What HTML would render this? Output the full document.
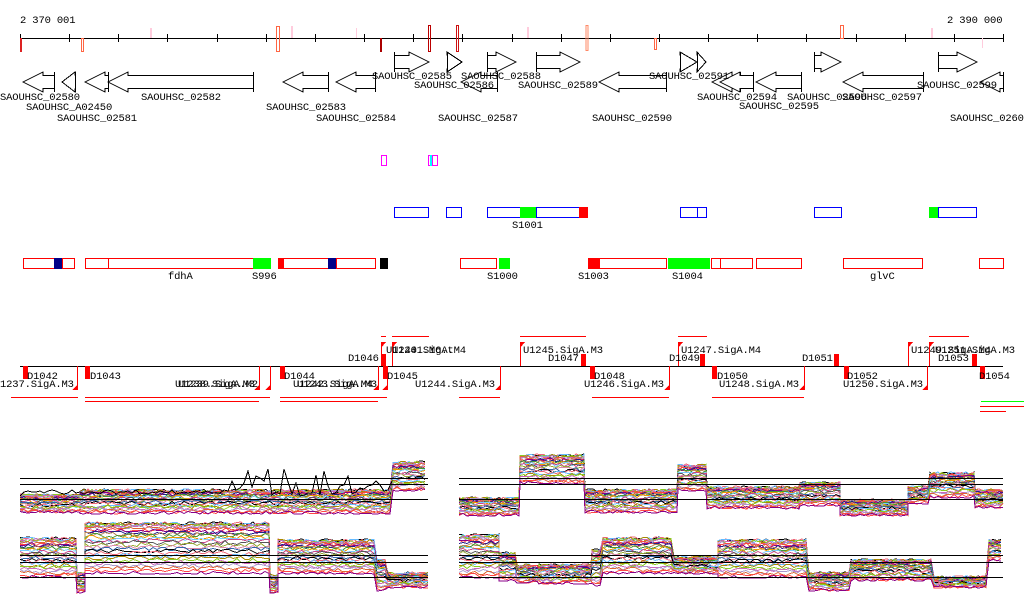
<!DOCTYPE html>
<html><head><meta charset="utf-8"><style>
html,body{margin:0;padding:0;background:#fff;width:1024px;height:611px;overflow:hidden}
svg text{font-family:"Liberation Mono","DejaVu Sans Mono",monospace;font-size:10.5px;fill:#000;letter-spacing:-0.15px}
</style></head><body>
<svg id="s" width="1024" height="611" xmlns="http://www.w3.org/2000/svg" shape-rendering="crispEdges">
<text x="20" y="23">2 370 001</text>
<text x="947" y="23">2 390 000</text>
<line x1="20" y1="38.5" x2="1003" y2="38.5" stroke="#000"/>
<g id="ticks" stroke="#000"></g>
<g fill="none">
<rect x="20" y="38" width="2" height="14" fill="#d22"/>
<rect x="81.5" y="38.5" width="2" height="13" stroke="#f64"/>
<rect x="276.5" y="26.5" width="3" height="25" stroke="#f64"/>
<rect x="428.5" y="25.5" width="2" height="26" stroke="#b00"/>
<rect x="456.5" y="25.5" width="2" height="26" stroke="#c11"/>
<rect x="586" y="25.5" width="2" height="25" stroke="#f86"/>
<rect x="654.5" y="38.5" width="2" height="11" stroke="#f64"/>
<rect x="840.5" y="25.5" width="3" height="13" stroke="#f64"/>
<rect x="380" y="38" width="2" height="14" fill="#a00"/>
<rect x="150" y="28" width="2" height="10" fill="#fcd"/>
<rect x="291" y="26" width="2" height="12" fill="#fcd"/>
<rect x="356" y="28" width="1" height="10" fill="#fcd"/>
<rect x="527" y="27" width="2" height="11" fill="#fcd"/>
<rect x="931" y="28" width="2" height="10" fill="#fcd"/>
<rect x="982" y="38" width="1" height="10" fill="#fcd"/>
</g>
<g id="genes" fill="#fff" stroke="#000"></g>
<g>
<text x="0" y="100">SAOUHSC_02580</text>
<text x="26" y="110">SAOUHSC_A02450</text>
<text x="57" y="121">SAOUHSC_02581</text>
<text x="141" y="100">SAOUHSC_02582</text>
<text x="266" y="110">SAOUHSC_02583</text>
<text x="316" y="121">SAOUHSC_02584</text>
<text x="372" y="79">SAOUHSC_02585</text>
<text x="414" y="88">SAOUHSC_02586</text>
<text x="461" y="79">SAOUHSC_02588</text>
<text x="438" y="121">SAOUHSC_02587</text>
<text x="518" y="88">SAOUHSC_02589</text>
<text x="592" y="121">SAOUHSC_02590</text>
<text x="649" y="79">SAOUHSC_02591</text>
<text x="697" y="100">SAOUHSC_02594</text>
<text x="739" y="109">SAOUHSC_02595</text>
<text x="787" y="100">SAOUHSC_02596</text>
<text x="842" y="100">SAOUHSC_02597</text>
<text x="917" y="88">SAOUHSC_02599</text>
<text x="950" y="121">SAOUHSC_02600</text>
</g>
<g fill="none">
<rect x="381.5" y="155.5" width="5" height="10" stroke="#f0f"/>
<rect x="428.5" y="155.5" width="2" height="10" stroke="#f0f"/>
<rect x="430.5" y="155.5" width="1" height="10" stroke="#0ff"/>
<rect x="432.5" y="155.5" width="5" height="10" stroke="#f0f"/>
</g>
<g fill="#fff" stroke="#00f">
<rect x="394.5" y="207.5" width="34" height="10"/>
<rect x="446.5" y="207.5" width="15" height="10"/>
<rect x="487.5" y="207.5" width="33" height="10"/>
<rect x="536.5" y="207.5" width="43" height="10"/>
<rect x="680.5" y="207.5" width="17" height="10"/>
<rect x="697.5" y="207.5" width="9" height="10"/>
<rect x="814.5" y="207.5" width="27" height="10"/>
<rect x="938.5" y="207.5" width="38" height="10"/>
</g>
<rect x="520" y="207" width="16" height="11" fill="#0f0"/>
<rect x="579" y="207" width="9" height="11" fill="#f00"/>
<rect x="929" y="207" width="9" height="11" fill="#0f0"/>
<text x="512" y="228">S1001</text>
<g fill="#fff" stroke="#f00">
<rect x="23.5" y="258.5" width="31" height="10"/>
<rect x="62.5" y="258.5" width="12" height="10"/>
<rect x="85.5" y="258.5" width="23" height="10"/>
<rect x="108.5" y="258.5" width="145" height="10"/>
<rect x="278.5" y="258.5" width="50" height="10"/>
<rect x="336.5" y="258.5" width="39" height="10"/>
<rect x="460.5" y="258.5" width="36" height="10"/>
<rect x="599.5" y="258.5" width="67" height="10"/>
<rect x="711.5" y="258.5" width="9" height="10"/>
<rect x="720.5" y="258.5" width="32" height="10"/>
<rect x="756.5" y="258.5" width="45" height="10"/>
<rect x="843.5" y="258.5" width="79" height="10"/>
<rect x="979.5" y="258.5" width="24" height="10"/>
</g>
<rect x="54" y="258" width="8" height="11" fill="#008"/>
<rect x="328" y="258" width="8" height="11" fill="#008"/>
<rect x="253" y="258" width="18" height="11" fill="#0f0"/>
<rect x="278" y="258" width="6" height="11" fill="#f00"/>
<rect x="380" y="258" width="8" height="11" fill="#000"/>
<rect x="499" y="258" width="11" height="11" fill="#0f0"/>
<rect x="588" y="258" width="11" height="11" fill="#f00"/>
<rect x="668" y="258" width="42" height="11" fill="#0f0"/>
<text x="168" y="279">fdhA</text>
<text x="252" y="279">S996</text>
<text x="487" y="279">S1000</text>
<text x="578" y="279">S1003</text>
<text x="672" y="279">S1004</text>
<text x="870" y="279">glvC</text>
<line x1="20" y1="366.5" x2="1003" y2="366.5" stroke="#000"/>
<g id="tss"></g>
<g>
<text x="27" y="379">D1042</text>
<text x="0" y="387">1237.SigA.M3</text>
<text x="90" y="379">D1043</text>
<text x="175" y="387">U1238.SigA.M3</text>
<text x="178" y="387">U1239.SigA.M2</text>
<text x="284" y="379">D1044</text>
<text x="293" y="387">U1242.SigA.M4</text>
<text x="297" y="387">U1243.SigA.M3</text>
<text x="387" y="379">D1045</text>
<text x="348" y="361">D1046</text>
<text x="386" y="353">U1240.SigA.M4</text>
<text x="392" y="353">U1241.M6.t</text>
<text x="415" y="387">U1244.SigA.M3</text>
<text x="523" y="353">U1245.SigA.M3</text>
<text x="548" y="361">D1047</text>
<text x="594" y="379">D1048</text>
<text x="584" y="387">U1246.SigA.M3</text>
<text x="681" y="353">U1247.SigA.M4</text>
<text x="669" y="361">D1049</text>
<text x="717" y="379">D1050</text>
<text x="719" y="387">U1248.SigA.M3</text>
<text x="802" y="361">D1051</text>
<text x="847" y="379">D1052</text>
<text x="843" y="387">U1250.SigA.M3</text>
<text x="911" y="353">U1249.SigA.M4</text>
<text x="935" y="353">U1251.SigA.M3</text>
<text x="938" y="361">D1053</text>
<text x="979" y="379">D1054</text>
</g>
<g stroke="#f00" stroke-width="1.2">
<line x1="11" y1="397.5" x2="78" y2="397.5"/>
<line x1="85" y1="397.5" x2="270" y2="397.5"/>
<line x1="85" y1="401.5" x2="259" y2="401.5"/>
<line x1="280" y1="397.5" x2="387" y2="397.5"/>
<line x1="280" y1="401.5" x2="378" y2="401.5"/>
<line x1="459" y1="397.5" x2="500" y2="397.5"/>
<line x1="592" y1="397.5" x2="669" y2="397.5"/>
<line x1="712" y1="397.5" x2="804" y2="397.5"/>
<line x1="381" y1="336.5" x2="386" y2="336.5"/>
<line x1="392" y1="336.5" x2="429" y2="336.5"/>
<line x1="520" y1="336.5" x2="586" y2="336.5"/>
<line x1="678" y1="336.5" x2="707" y2="336.5"/>
<line x1="929" y1="336.5" x2="969" y2="336.5"/>
<line x1="980" y1="406.5" x2="1024" y2="406.5"/>
<line x1="980" y1="411.5" x2="1006" y2="411.5"/>
</g>
<line x1="981" y1="401.5" x2="1024" y2="401.5" stroke="#0f0"/>
<g id="plots" fill="none"></g>
</svg>
<script>
var NS="http://www.w3.org/2000/svg";
function el(p,t,a){var e=document.createElementNS(NS,t);for(var k in a)e.setAttribute(k,a[k]);document.getElementById(p).appendChild(e);return e;}
for(var i=0;i<=20;i++){var x=Math.round(20+i*49.15)+.5;el('ticks','line',{x1:x,y1:34,x2:x,y2:42});}
function fwd(a,b,y){var h=Math.min(20,b-a),m=y+10;el('genes','path',{d:'M'+a+'.5 '+y+'V'+(y+20)+'M'+a+' '+(y+16.5)+'H'+(b-h)+'V'+(y+20)+'L'+b+' '+m+'L'+(b-h)+' '+y+'V'+(y+3.5)+'H'+a});}
function rev(a,b,y){var h=Math.min(20,b-a),m=y+10;el('genes','path',{d:'M'+b+'.5 '+y+'V'+(y+20)+'M'+b+' '+(y+16.5)+'H'+(a+h)+'V'+(y+20)+'L'+a+' '+m+'L'+(a+h)+' '+y+'V'+(y+3.5)+'H'+b});}
fwd(394,429,52);fwd(447,462,52);fwd(487,516,52);fwd(536,580,52);fwd(680,697,52);fwd(697,706,52);fwd(814,841,52);fwd(938,977,52);
rev(23,54,72);rev(62,75,72);rev(85,108,72);rev(108,253,72);rev(283,328,72);rev(336,375,72);rev(461,497,72);rev(599,666,72);rev(712,740,72);rev(720,753,72);rev(756,801,72);rev(843,923,72);rev(980,1003,72);
var R=[[23,366,5,13],[85,366,5,13],[280,366,5,13],[383,366,5,13],[381,354,5,12],[581,354,5,12],[590,366,5,13],[700,354,5,12],[712,366,5,13],[834,354,5,12],[844,366,5,13],[972,354,5,12],[980,366,5,13]];
R.forEach(function(r){el('tss','rect',{x:r[0],y:r[1],width:r[2],height:r[3],fill:'#f00'});});
[77,259,270,378,387,500,669,804,927].forEach(function(x){el('tss','line',{x1:x+.5,y1:366,x2:x+.5,y2:390,stroke:'#f00'});el('tss','path',{d:'M'+(x+1)+' 384L'+(x+1)+' 390L'+(x-5)+' 390Z',fill:'#f00'});});
[381,392,520,678,908,929].forEach(function(x){el('tss','line',{x1:x+.5,y1:342,x2:x+.5,y2:366,stroke:'#f00'});el('tss','path',{d:'M'+x+' 342L'+(x+5)+' 342L'+x+' 348Z',fill:'#f00'});});
var seed=7;function rnd(){seed=(seed*16807)%2147483647;return seed/2147483647;}
var cols=['#000','#e67','#6bf','#a80','#8c2','#c6b','#a9c','#d63','#f44','#808','#228','#b85','#493','#e90','#7cf','#c48','#555','#9a3','#d8a','#36a'];
function panel(segs,lines){
 var N=30;
 for(var i=0;i<N;i++){var f=Math.pow(i/(N-1),1.6),c=cols[i%cols.length],d='';
  segs.forEach(function(g){var t=g[2],b=g[3],y0=null;for(var x=g[0];x<=g[1];x+=4){var y=Math.round(t+f*(b-t)+(rnd()-.5)*4)+.5;y=Math.max(t-1,Math.min(b+1,y));d+=(d?'L':'M')+x+' '+y;}});
  el('plots','path',{d:d,stroke:c,'stroke-width':1});}
 lines.forEach(function(l){el('plots','line',{x1:l[0],y1:l[2]+.5,x2:l[1],y2:l[2]+.5,stroke:'#000','stroke-width':1.3});});
}
panel([[20,80,495,512],[80,230,490,513],[230,393,490,513],[393,428,462,490]],[[20,428,478],[20,428,484],[20,428,499]]);
// spiky black top line left upper
(function(){var d='M20 496',x;for(x=24;x<=393;x+=4){var y=x<230?494-(rnd()*4):480+rnd()*16;if(rnd()<0.15&&x>230)y=468+rnd()*10;d+='L'+x+' '+y.toFixed(0);}el('plots','path',{d:d,stroke:'#000','stroke-width':1});})();
panel([[20,77,538,577],[77,85,573,592],[85,270,523,573],[270,278,575,592],[278,377,540,573],[377,388,560,590],[388,428,573,587]],[[20,428,555],[20,428,562],[20,428,577]]);
panel([[459,520,498,515],[520,585,455,483],[585,678,490,512],[678,707,465,490],[707,800,487,508],[800,840,483,505],[840,908,500,515],[908,930,487,503],[930,975,473,497],[975,1003,490,507]],[[459,1003,478],[459,1003,484],[459,1003,499]]);
panel([[459,499,535,577],[499,517,553,580],[517,539,565,582],[539,592,565,583],[592,603,550,585],[603,674,538,573],[674,718,557,573],[718,809,540,577],[809,851,573,590],[851,934,560,580],[934,989,577,587],[989,1003,540,560]],[[459,1003,555],[459,1003,562],[459,1003,577]]);
</script>
</body></html>
